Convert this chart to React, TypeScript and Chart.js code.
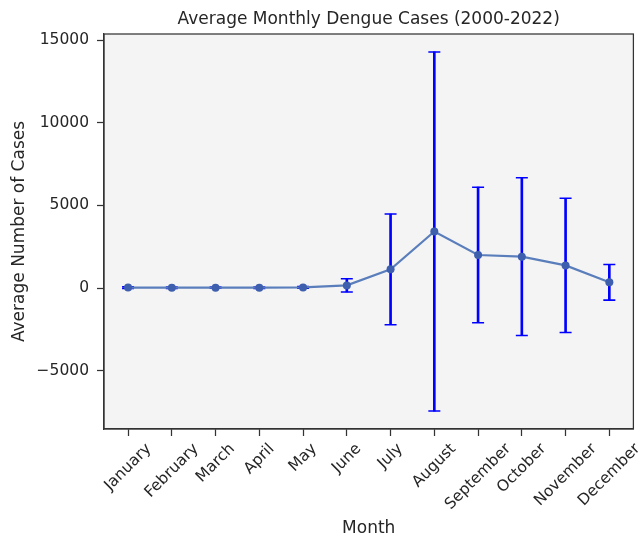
import React, { useEffect, useRef } from 'react';
import { Chart, registerables } from 'chart.js';

Chart.register(...registerables);

const months = ['January', 'February', 'March', 'April', 'May', 'June', 'July', 'August', 'September', 'October', 'November', 'December'];
const meanCases = [30, 20, 25, 20, 40, 160, 1130, 3420, 2000, 1900, 1370, 345];
const errCases = [50, 40, 40, 40, 50, 400, 3350, 10860, 4100, 4775, 4060, 1075];
const yTickValues = [-5000, 0, 5000, 10000, 15000];

const chartTitle = 'Average Monthly Dengue Cases (2000-2022)';
const xTitle = 'Month';
const yTitle = 'Average Number of Cases';

const W = 641;
const H = 539;
const FONT = "'DejaVu Sans', 'Noto Sans', sans-serif";
const TEXT = '#262626';

export default function App() {
  const ref = useRef<HTMLCanvasElement>(null);

  useEffect(() => {
    if (!ref.current) return;
    const lows = meanCases.map((m, i) => m - errCases[i]);
    const highs = meanCases.map((m, i) => m + errCases[i]);
    const lo = Math.min(...lows);
    const hi = Math.max(...highs);
    const yPad = (hi - lo) * 0.05;
    const n = months.length;
    const xPad = (n - 1) * 0.05;

    const decor = {
      id: 'decor',
      beforeDraw(chart: any) {
        const { ctx, chartArea } = chart;
        ctx.save();
        ctx.fillStyle = '#ffffff';
        ctx.fillRect(0, 0, chart.width, chart.height);
        ctx.fillStyle = '#f4f4f4';
        ctx.fillRect(chartArea.left, chartArea.top, chartArea.right - chartArea.left, chartArea.bottom - chartArea.top);
        ctx.restore();
      },
      afterDraw(chart: any) {
        const { ctx, chartArea } = chart;
        ctx.save();
        ctx.strokeStyle = '#333333';
        ctx.lineWidth = 1.25;
        ctx.strokeRect(chartArea.left, chartArea.top, chartArea.right - chartArea.left, chartArea.bottom - chartArea.top);

        ctx.fillStyle = TEXT;
        ctx.font = `17px ${FONT}`;
        ctx.textAlign = 'center';
        ctx.textBaseline = 'alphabetic';
        ctx.fillText(chartTitle, (chartArea.left + chartArea.right) / 2, 24);

        const xs = chart.scales.x;
        const fs = 15.5;
        ctx.font = `${fs}px ${FONT}`;
        const top = chartArea.bottom + 7 + 5;
        months.forEach((label, i) => {
          const px = xs.getPixelForValue(i);
          const w = ctx.measureText(label).width;
          const d = (w + fs) / (2 * Math.SQRT2);
          ctx.save();
          ctx.translate(px, top + d);
          ctx.rotate(-Math.PI / 4);
          ctx.textAlign = 'center';
          ctx.textBaseline = 'middle';
          ctx.fillText(label, 0, 0);
          ctx.restore();
        });
        ctx.restore();
      },
    };

    const chart = new Chart(ref.current, {
      data: {
        datasets: [
          {
            type: 'line',
            label: 'Mean',
            data: meanCases.map((m, i) => ({ x: i, y: m })),
            borderColor: '#5a7ebc',
            borderWidth: 2.2,
            pointRadius: 4,
            pointBackgroundColor: '#3d5fae',
            pointBorderColor: '#3d5fae',
            pointBorderWidth: 0,
            tension: 0,
            order: 0,
          },
          {
            type: 'scatter',
            label: 'Caps',
            data: [
              ...highs.map((h, i) => ({ x: i, y: h })),
              ...lows.map((l, i) => ({ x: i, y: l })),
            ],
            pointStyle: 'line',
            pointRadius: 6,
            pointBorderWidth: 1.6,
            pointBorderColor: '#0000ff',
            pointBackgroundColor: '#0000ff',
            showLine: false,
            order: 1,
          },
          {
            type: 'bar',
            label: 'Error',
            data: lows.map((l, i) => ({ x: i, y: [l, highs[i]] })),
            backgroundColor: '#0000ff',
            barThickness: 2,
            borderWidth: 0,
            order: 2,
          },
        ] as any,
      },
      options: {
        animation: false,
        responsive: false,
        maintainAspectRatio: false,
        events: [],
        layout: { padding: { left: 0, top: 34, right: 7, bottom: 0 } },
        plugins: {
          legend: { display: false },
          tooltip: { enabled: false },
          title: { display: false },
        },
        scales: {
          x: {
            type: 'linear',
            min: -xPad,
            max: n - 1 + xPad,
            offset: false,
            afterBuildTicks: (s: any) => {
              s.ticks = months.map((_, i) => ({ value: i }));
            },
            afterFit: (s: any) => {
              s.height = 110;
            },
            ticks: { display: false },
            grid: {
              offset: false,
              drawOnChartArea: false,
              drawTicks: true,
              tickLength: 7,
              tickColor: '#333333',
              tickWidth: 1.25,
            },
            border: { display: true, color: '#333333', width: 1.25 },
            title: {
              display: true,
              text: xTitle,
              color: TEXT,
              font: { family: FONT, size: 17, lineHeight: 1.0 },
              padding: { top: 0, bottom: 2 },
            },
          },
          y: {
            type: 'linear',
            min: lo - yPad,
            max: hi + yPad,
            afterBuildTicks: (s: any) => {
              s.ticks = yTickValues.map((v) => ({ value: v }));
            },
            afterFit: (s: any) => {
              s.width = 104;
            },
            ticks: {
              color: TEXT,
              font: { family: FONT, size: 15.5 },
              padding: 8,
              callback: (v: any) => (Number(v) < 0 ? '\u2212' + Math.abs(Number(v)) : String(v)),
            },
            grid: {
              drawOnChartArea: false,
              drawTicks: true,
              tickLength: 7,
              tickColor: '#333333',
              tickWidth: 1.25,
            },
            border: { display: true, color: '#333333', width: 1.25 },
            title: {
              display: true,
              text: yTitle,
              color: TEXT,
              font: { family: FONT, size: 17, lineHeight: 1.2 },
              padding: { top: 9, bottom: 0 },
            },
          },
        },
      } as any,
      plugins: [decor],
    });

    return () => chart.destroy();
  }, []);

  return (
    <div style={{ position: 'absolute', left: 0, top: 0, width: W, height: H }}>
      <canvas ref={ref} width={W} height={H} style={{ display: 'block', width: W, height: H }} />
    </div>
  );
}
